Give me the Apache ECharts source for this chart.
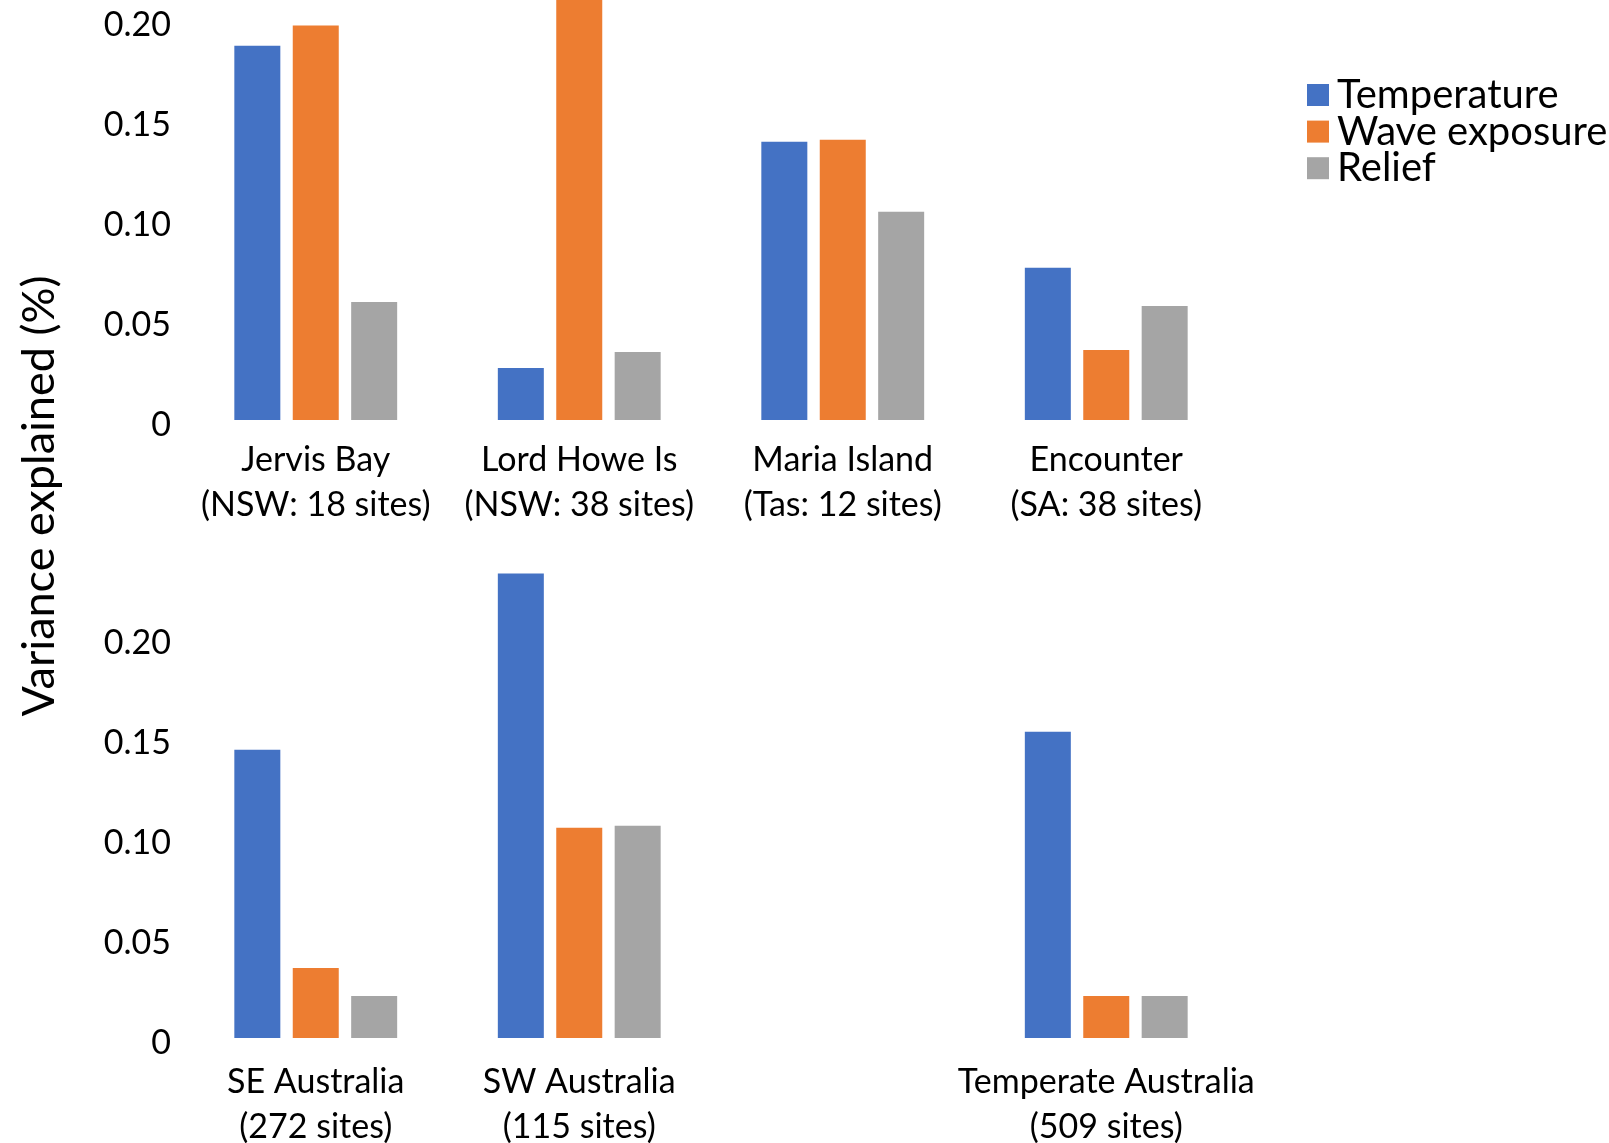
<!DOCTYPE html>
<html>
<head>
<meta charset="utf-8">
<script src="https://cdn.jsdelivr.net/npm/echarts@6/dist/echarts.min.js"></script>
<style>
  html, body { margin: 0; padding: 0; background: #fff; }
  #chart { width: 1609px; height: 1143px; }
</style>
</head>
<body>
<div id="chart"></div>
<script>
// Regional study areas (upper panel) and broad-scale regions (lower panel)
const regionsTop = ['Jervis Bay\n(NSW: 18 sites)', 'Lord Howe Is\n(NSW: 38 sites)', 'Maria Island\n(Tas: 12 sites)', 'Encounter\n(SA: 38 sites)'];
const regionsBottom = ['SE Australia\n(272 sites)', 'SW Australia\n(115 sites)', '', 'Temperate Australia\n(509 sites)'];

// Variance explained by each predictor
const temperatureTop = [0.187, 0.026, 0.139, 0.076];
const waveTop = [0.197, 0.240, 0.140, 0.035];
const reliefTop = [0.059, 0.034, 0.104, 0.057];

const temperatureBottom = [0.144, 0.232, null, 0.153];
const waveBottom = [0.035, 0.105, null, 0.021];
const reliefBottom = [0.021, 0.106, null, 0.021];

const seriesNames = ['Temperature', 'Wave exposure', 'Relief'];
const seriesColors = ['#4472C4', '#ED7D31', '#A5A5A5'];
// upper panel is cut off just above 0.21; lower panel runs to 0.25
const yTop = { min: 0, max: 0.2098, interval: 0.05 };
const yBottom = { min: 0, max: 0.25, interval: 0.05 };

const FONT = 'Lato';

function yAxis(gridIndex, range) {
  return {
    type: 'value', gridIndex,
    min: range.min, max: range.max, interval: range.interval,
    axisLine: { show: false }, axisTick: { show: false }, splitLine: { show: false },
    axisLabel: {
      showMaxLabel: false, margin: 13, color: '#000', fontFamily: FONT, fontSize: 34,
      // empty leading line nudges each label slightly below its tick
      lineHeight: 10,
      formatter: v => '\n' + (v === 0 ? '0' : v.toFixed(2))
    }
  };
}

function xAxis(gridIndex, data, margin) {
  return {
    type: 'category', gridIndex, data,
    axisLine: { show: false }, axisTick: { show: false }, splitLine: { show: false },
    axisLabel: { margin, color: '#000', fontFamily: FONT, fontSize: 34, lineHeight: 45, interval: 0 }
  };
}

function bars(name, idx, data, axisIndex) {
  return {
    type: 'bar', name, data,
    xAxisIndex: axisIndex, yAxisIndex: axisIndex,
    barWidth: 46, barGap: '27%', clip: true,
    itemStyle: { color: seriesColors[idx] },
    emphasis: { disabled: true }
  };
}

const chart = echarts.init(document.getElementById('chart'), null, { renderer: 'canvas' });
chart.setOption({
  animation: false,
  backgroundColor: '#fff',
  grid: [
    { left: 184, right: 371, top: 0, bottom: 723, outerBoundsMode: 'none' },
    { left: 184, right: 371, top: 537.5, bottom: 105, outerBoundsMode: 'none' }
  ],
  xAxis: [xAxis(0, regionsTop, 18), xAxis(1, regionsBottom, 22)],
  yAxis: [yAxis(0, yTop), yAxis(1, yBottom)],
  legend: {
    data: seriesNames,
    orient: 'vertical', left: 1302, top: 70,
    itemWidth: 22, itemHeight: 22, itemGap: -3.4,
    icon: 'rect',
    textStyle: { fontFamily: FONT, fontSize: 40, color: '#000', padding: [0, 0, 0, 3] }
  },
  graphic: [{
    type: 'text', x: 39, y: 496, rotation: Math.PI / 2,
    style: {
      text: 'Variance explained (%)', fontFamily: FONT, fontSize: 45, fill: '#000',
      align: 'center', verticalAlign: 'middle'
    }
  }],
  series: [
    bars(seriesNames[0], 0, temperatureTop, 0),
    bars(seriesNames[1], 1, waveTop, 0),
    bars(seriesNames[2], 2, reliefTop, 0),
    bars(seriesNames[0], 0, temperatureBottom, 1),
    bars(seriesNames[1], 1, waveBottom, 1),
    bars(seriesNames[2], 2, reliefBottom, 1)
  ]
});
</script>
</body>
</html>
